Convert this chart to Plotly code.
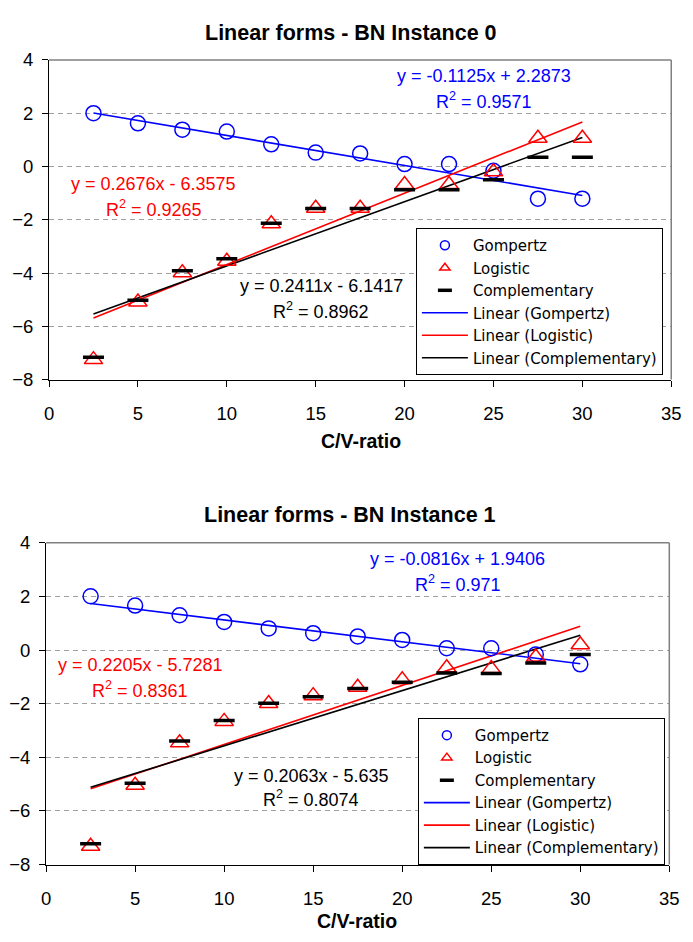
import plotly.graph_objects as go

W, H = 693, 942

# ---------------- data ----------------
x_cv = [2.5, 5, 7.5, 10, 12.5, 15, 17.5, 20, 22.5, 25, 27.5, 30]

gompertz0 = [2.00, 1.62, 1.38, 1.31, 0.83, 0.52, 0.49, 0.09, 0.09, -0.16, -1.21, -1.21]
logistic0 = [-7.25, -5.09, -3.99, -3.56, -2.15, -1.57, -1.57, -0.68, -0.68, -0.20, 1.06, 1.06]
compl0 = [-7.16, -5.02, -3.91, -3.46, -2.13, -1.58, -1.58, -0.87, -0.87, -0.50, 0.35, 0.35]

gompertz1 = [2.01, 1.66, 1.30, 1.05, 0.81, 0.63, 0.51, 0.38, 0.07, 0.07, -0.16, -0.53]
logistic1 = [-7.32, -5.04, -3.46, -2.66, -1.99, -1.70, -1.39, -1.11, -0.66, -0.69, -0.26, 0.20]
compl1 = [-7.22, -4.97, -3.39, -2.63, -1.98, -1.74, -1.43, -1.20, -0.85, -0.87, -0.48, -0.16]

# trendline coefficients (slope, intercept, R^2) as printed on the chart
slopes0 = [-0.1125, 0.2676, 0.2411]
intercepts0 = [2.2873, -6.3575, -6.1417]
r2_0 = ["0.9571", "0.9265", "0.8962"]
slopes1 = [-0.0816, 0.2205, 0.2063]
intercepts1 = [1.9406, -5.7281, -5.635]
r2_1 = ["0.971", "0.8361", "0.8074"]

series_names = ["Gompertz", "Logistic", "Complementary"]
titles = ["Linear forms - BN Instance 0", "Linear forms - BN Instance 1"]
x_ticks = [0, 5, 10, 15, 20, 25, 30, 35]
y_ticks = [-8, -6, -4, -2, 0, 2, 4]

# ---------------- style ----------------
FONT = "Liberation Sans, Arial, sans-serif"
LEG_FONT = "DejaVu Sans, Liberation Sans, sans-serif"
colors = ["#0000FF", "#FF0000", "#000000"]
symbols = ["circle-open", "triangle-up-open", "line-ew-open"]
msizes = [15, 16, 15]
mwidths = [1.5, 1.5, 3.5]
leg_sizes = [9, 9, 10]
leg_widths = [1.5, 1.5, 3.5]

def px_x(p):
    return p / W

def px_y(p):
    return 1 - p / H

panels = [
    dict(dom_x=(45, 681), dom_y=(50, 377), data=(gompertz0, logistic0, compl0),
         sl=slopes0, ic=intercepts0, r2=r2_0, legend="legend", leg_pos=(420, 222),
         title_pos=(354, 22), xtitle_pos=(364, 440),
         ann=[((490, 66), (490, 92)), ((152, 177), (152, 202)), ((323, 281), (323, 306))]),
    dict(dom_x=(42, 679), dom_y=(544, 873), data=(gompertz1, logistic1, compl1),
         sl=slopes1, ic=intercepts1, r2=r2_1, legend="legend2", leg_pos=(422, 723),
         title_pos=(353, 516), xtitle_pos=(360, 931),
         ann=[((463, 561), (463, 586)), ((138, 669), (138, 694)), ((313, 782), (313, 805))]),
]

fig = go.Figure()
annotations = []
shapes = []
layout_extra = {}

for i, p in enumerate(panels):
    xa = "x" if i == 0 else "x2"
    ya = "y" if i == 0 else "y2"
    xs = [x_cv[0], x_cv[-1]]
    # trendlines (drawn first, below markers)
    for k in range(3):
        ys = [p["sl"][k] * xv + p["ic"][k] for xv in xs]
        fig.add_trace(go.Scatter(
            x=xs, y=ys, mode="lines", name=f"Linear ({series_names[k]})",
            xaxis=xa, yaxis=ya, legend=p["legend"], showlegend=False,
            line=dict(color=colors[k], width=1.6),
        ))
    for k in range(3):
        fig.add_trace(go.Scatter(
            x=x_cv, y=p["data"][k], mode="markers", name=series_names[k],
            xaxis=xa, yaxis=ya, legend=p["legend"], showlegend=False,
            marker=dict(symbol=symbols[k], size=msizes[k], color=colors[k],
                        line=dict(color=colors[k], width=mwidths[k])),
        ))
    # legend entries (smaller symbols, as in the reference legend)
    for k in range(3):
        fig.add_trace(go.Scatter(
            x=[None], y=[None], mode="markers", name=series_names[k],
            xaxis=xa, yaxis=ya, legend=p["legend"], showlegend=True,
            marker=dict(symbol=symbols[k], size=leg_sizes[k], color=colors[k],
                        line=dict(color=colors[k], width=leg_widths[k])),
        ))
    for k in range(3):
        fig.add_trace(go.Scatter(
            x=[None], y=[None], mode="lines", name=f"Linear ({series_names[k]})",
            xaxis=xa, yaxis=ya, legend=p["legend"], showlegend=True,
            line=dict(color=colors[k], width=1.6),
        ))
    # equation annotations
    for k in range(3):
        (ex, ey), (rx, ry) = p["ann"][k]
        b = p["ic"][k]
        sign = "+" if b >= 0 else "-"
        eq = f"y = {p['sl'][k]}x {sign} {abs(b)}"
        annotations.append(dict(x=px_x(ex), y=px_y(ey), xref="paper", yref="paper",
                                text=eq, showarrow=False, xanchor="center", yanchor="middle",
                                font=dict(family=FONT, size=18, color=colors[k])))
        annotations.append(dict(x=px_x(rx), y=px_y(ry), xref="paper", yref="paper",
                                text=f"R<sup>2</sup> = {p['r2'][k]}", showarrow=False,
                                xanchor="center", yanchor="middle",
                                font=dict(family=FONT, size=18, color=colors[k])))
    # titles
    annotations.append(dict(x=px_x(p["title_pos"][0]), y=px_y(p["title_pos"][1]), xref="paper", yref="paper",
                            text=f"<b>{titles[i]}</b>", showarrow=False, xanchor="center", yanchor="middle",
                            font=dict(family=FONT, size=21.5, color="black")))
    annotations.append(dict(x=px_x(p["xtitle_pos"][0]), y=px_y(p["xtitle_pos"][1]), xref="paper", yref="paper",
                            text="<b>C/V-ratio</b>", showarrow=False, xanchor="center", yanchor="middle",
                            font=dict(family=FONT, size=19.5, color="black")))
    # gray top/right border of plot area
    x0, x1 = px_x(p["dom_x"][0]), px_x(p["dom_x"][1])
    y0, y1 = px_y(p["dom_y"][1]), px_y(p["dom_y"][0])
    shapes.append(dict(type="line", xref="paper", yref="paper", x0=x0, x1=x1, y0=y1, y1=y1,
                       line=dict(color="#808080", width=1.5), layer="above"))
    shapes.append(dict(type="line", xref="paper", yref="paper", x0=x1, x1=x1, y0=y0, y1=y1,
                       line=dict(color="#808080", width=1.5), layer="above"))

    axis_common = dict(showline=True, linecolor="black", linewidth=1.2, ticks="outside",
                       ticklen=6, tickcolor="black", tickwidth=1.2, zeroline=False,
                       tickfont=dict(family=FONT, size=18.5, color="black"))
    xkey = "xaxis" if i == 0 else "xaxis2"
    ykey = "yaxis" if i == 0 else "yaxis2"
    layout_extra[xkey] = dict(domain=[x0, x1], range=[0, 35], tickvals=x_ticks,
                              showgrid=False, anchor=ya, ticklabelstandoff=11, **axis_common)
    layout_extra[ykey] = dict(domain=[y0, y1], range=[-8, 4], tickvals=y_ticks,
                              showgrid=True, gridcolor="#A0A0A0", griddash="5px,4px", gridwidth=1,
                              anchor=xa, ticklabelstandoff=5, **axis_common)
    legend_cfg = dict(x=px_x(p["leg_pos"][0]), y=px_y(p["leg_pos"][1]), xanchor="left", yanchor="top",
                      bgcolor="white", bordercolor="black", borderwidth=1,
                      font=dict(family=LEG_FONT, size=15, color="black"),
                      itemwidth=46, tracegroupgap=0)
    layout_extra[p["legend"]] = legend_cfg

fig.update_layout(
    width=W, height=H, margin=dict(l=0, r=0, t=0, b=0),
    paper_bgcolor="white", plot_bgcolor="white",
    showlegend=True, annotations=annotations, shapes=shapes,
    font=dict(family=FONT),
    **layout_extra,
)

fig.write_html("out.html")
